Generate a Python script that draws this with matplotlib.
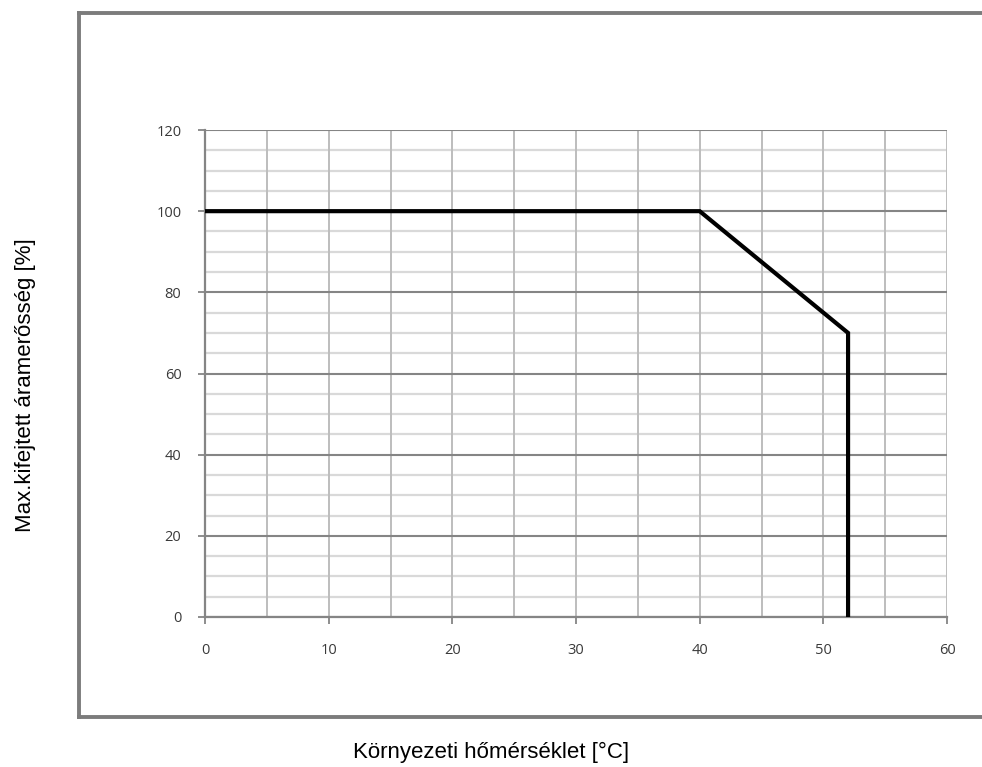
import matplotlib
matplotlib.use("Agg")
import matplotlib.pyplot as plt
from matplotlib.lines import Line2D

temps = [0, 40, 52, 52]
current = [100, 100, 70, 0]
x_ticks = [0, 10, 20, 30, 40, 50, 60]
y_ticks = [0, 20, 40, 60, 80, 100, 120]
x_minor = [5, 15, 25, 35, 45, 55]
y_minor = [v for v in range(0, 121, 5) if v % 20 != 0]

fig = plt.figure(figsize=(9.82, 7.67), dpi=100)
fig.patch.set_facecolor("white")

# outer frame (open on the right side)
fw, fh = 982, 767
frame_col = "#7c7c7c"
kw = dict(color=frame_col, lw=2.8, transform=fig.transFigure, solid_capstyle="projecting")
fig.add_artist(Line2D([79/fw, 79/fw], [1-13/fh, 1-717/fh], **kw))
fig.add_artist(Line2D([79/fw, 1.0], [1-13/fh, 1-13/fh], **kw))
fig.add_artist(Line2D([79/fw, 1.0], [1-717/fh, 1-717/fh], **kw))

ax = fig.add_axes([205/fw, 1-617/fh, (947-205)/fw, (617-130)/fh])
ax.set_xlim(0, 60)
ax.set_ylim(0, 120)

# grid lines
for v in y_minor:
    ax.axhline(v, color="#d9d9d9", lw=1.6, zorder=1)
for v in x_ticks + x_minor:
    ax.axvline(v, color="#bdbdbd", lw=1.4, zorder=1)
for v in y_ticks:
    ax.axhline(v, color="#858585", lw=1.5, zorder=2)

ax.plot(temps, current, color="black", lw=3.0, zorder=5, solid_joinstyle="miter")

for s in ["top", "right"]:
    ax.spines[s].set_visible(False)
for s in ["left", "bottom"]:
    ax.spines[s].set_color("#858585")
    ax.spines[s].set_linewidth(1.6)

ax.set_xticks(x_ticks)
ax.set_yticks(y_ticks)
ax.tick_params(axis="both", direction="out", length=5, width=1.3, color="#858585",
               labelsize=10.5, labelcolor="#3a3a3a")
ax.tick_params(axis="x", pad=14)
ax.tick_params(axis="y", pad=12)
for lab in ax.get_xticklabels() + ax.get_yticklabels():
    lab.set_family(["Open Sans", "DejaVu Sans"])

fig.text(491/fw, 1-752/fh, "Környezeti hőmérséklet [°C]", ha="center", va="center",
         fontsize=16, family=["Liberation Sans", "DejaVu Sans"])
fig.text(26/fw, 1-385/fh, "Max.kifejtett áramerősség [%]", ha="center", va="center",
         rotation=90, fontsize=16, family=["Liberation Sans", "DejaVu Sans"])

fig.savefig("out.png", dpi=100)
